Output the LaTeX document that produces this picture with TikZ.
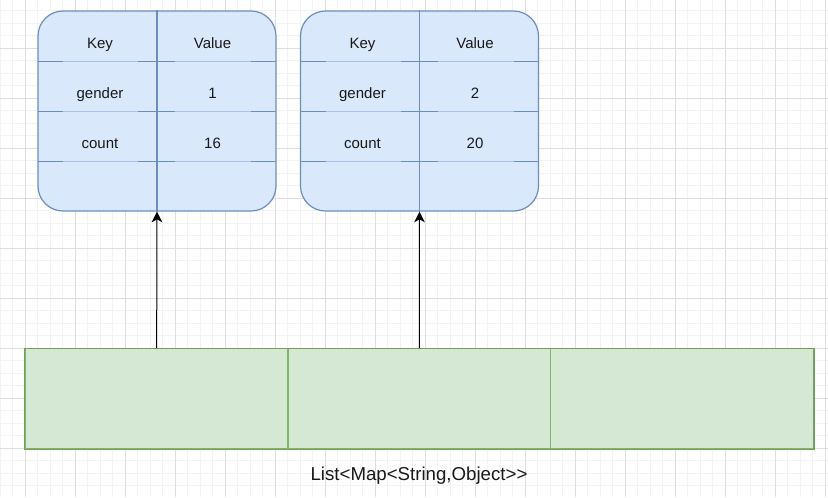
\documentclass[tikz,border=0pt]{standalone}
\usepackage{fontspec}
\setmainfont[Ligatures=NoCommon]{Liberation Sans}
\usetikzlibrary{arrows.meta}
\definecolor{tfill}{HTML}{DAE8FC}
\definecolor{tline}{HTML}{6C8EBF}
\definecolor{tlight}{HTML}{A9C0E4}
\definecolor{gfill}{HTML}{D5E8D4}
\definecolor{gline}{HTML}{82B366}
\definecolor{gdark}{HTML}{739F5B}
\definecolor{gridminor}{HTML}{F3F3F3}
\definecolor{gridmajor}{HTML}{DEDEDE}
\newcommand{\rowline}[2]{%
  \draw[tlight,line width=0.75pt] (#1,#2) -- ++(238,0);
  \draw[tline,line width=0.75pt] (#1,#2) -- ++(25,0);
  \draw[tline,line width=0.75pt] ({#1+100},#2) -- ++(37,0);
  \draw[tline,line width=0.75pt] ({#1+213},#2) -- ++(25,0);
}
\begin{document}
\begin{tikzpicture}[x=0.75pt,y=-0.75pt,
  tbl/.style={draw=tline, fill=tfill, line width=0.9pt, rounded corners=18.75pt,
    minimum width=178.5pt, minimum height=150pt, inner sep=0pt},
  cell/.style={draw=gline, fill=gfill, line width=0.9pt,
    minimum width=197pt, minimum height=75pt, inner sep=0pt},
  txt/.style={font=\fontsize{11.25}{13}\selectfont, anchor=base, inner sep=0pt, text=black!90},
  arr/.style={-{Stealth[length=8pt,width=8pt,inset=2.2pt]}, line width=0.75pt, black}]
\useasboundingbox (0,0) rectangle (828,497);
\fill[white] (0,0) rectangle (828,497);
% grid
\foreach \i in {0,...,66} \draw[gridminor,line width=0.75pt] ({0.3+12.5*\i},0) -- ++(0,497);
\foreach \i in {1,...,40} \draw[gridminor,line width=0.75pt] (0,{-1.7+12.5*\i}) -- ++(828,0);
\foreach \i in {0,...,16} \draw[gridmajor,line width=0.75pt] ({25.3+50*\i},0) -- ++(0,497);
\foreach \i in {0,...,8} \draw[gridmajor,line width=0.75pt] (0,{48.3+50*\i}) -- ++(828,0);
% tables
\node[tbl] (t1) at (157,111) {};
\node[tbl] (t2) at (419.5,111) {};
\rowline{38}{61}\rowline{38}{111}\rowline{38}{161}
\rowline{300.5}{61}\rowline{300.5}{111}\rowline{300.5}{161}
\draw[tline,line width=0.9pt] (t1.north) -- (t1.south);
\draw[tline,line width=0.9pt] (t2.north) -- (t2.south);
% table texts
\node[txt] (k1) at (100,48.3) {Key};
\node[txt] (v1) at (212.5,48.3) {Value};
\node[txt] (g1) at (100,98.3) {gender};
\node[txt] (gv1) at (212.5,98.3) {1};
\node[txt] (n1) at (100,148.3) {count};
\node[txt] (nv1) at (212.5,148.3) {16};
\node[txt] (k2) at (362.5,48.3) {Key};
\node[txt] (v2) at (475,48.3) {Value};
\node[txt] (g2) at (362.5,98.3) {gender};
\node[txt] (gv2) at (475,98.3) {2};
\node[txt] (n2) at (362.5,148.3) {count};
\node[txt] (nv2) at (475,148.3) {20};
% list bar
\node[cell] (c1) at (156.65,398.7) {};
\node[cell] (c2) at (419.35,398.7) {};
\node[cell] (c3) at (682,398.7) {};
\draw[gdark,line width=0.9pt] (c1.north west) rectangle (c3.south east);
% arrows
\draw[arr] (c1.north) -- (t1.south);
\draw[arr] (c2.north) -- (t2.south);
% label
\node[font=\fontsize{14}{16}\selectfont, anchor=base, inner sep=0pt, text=black!90] (lbl) at (419,480) {List<Map<String,Object>{}>};
\end{tikzpicture}
\end{document}
